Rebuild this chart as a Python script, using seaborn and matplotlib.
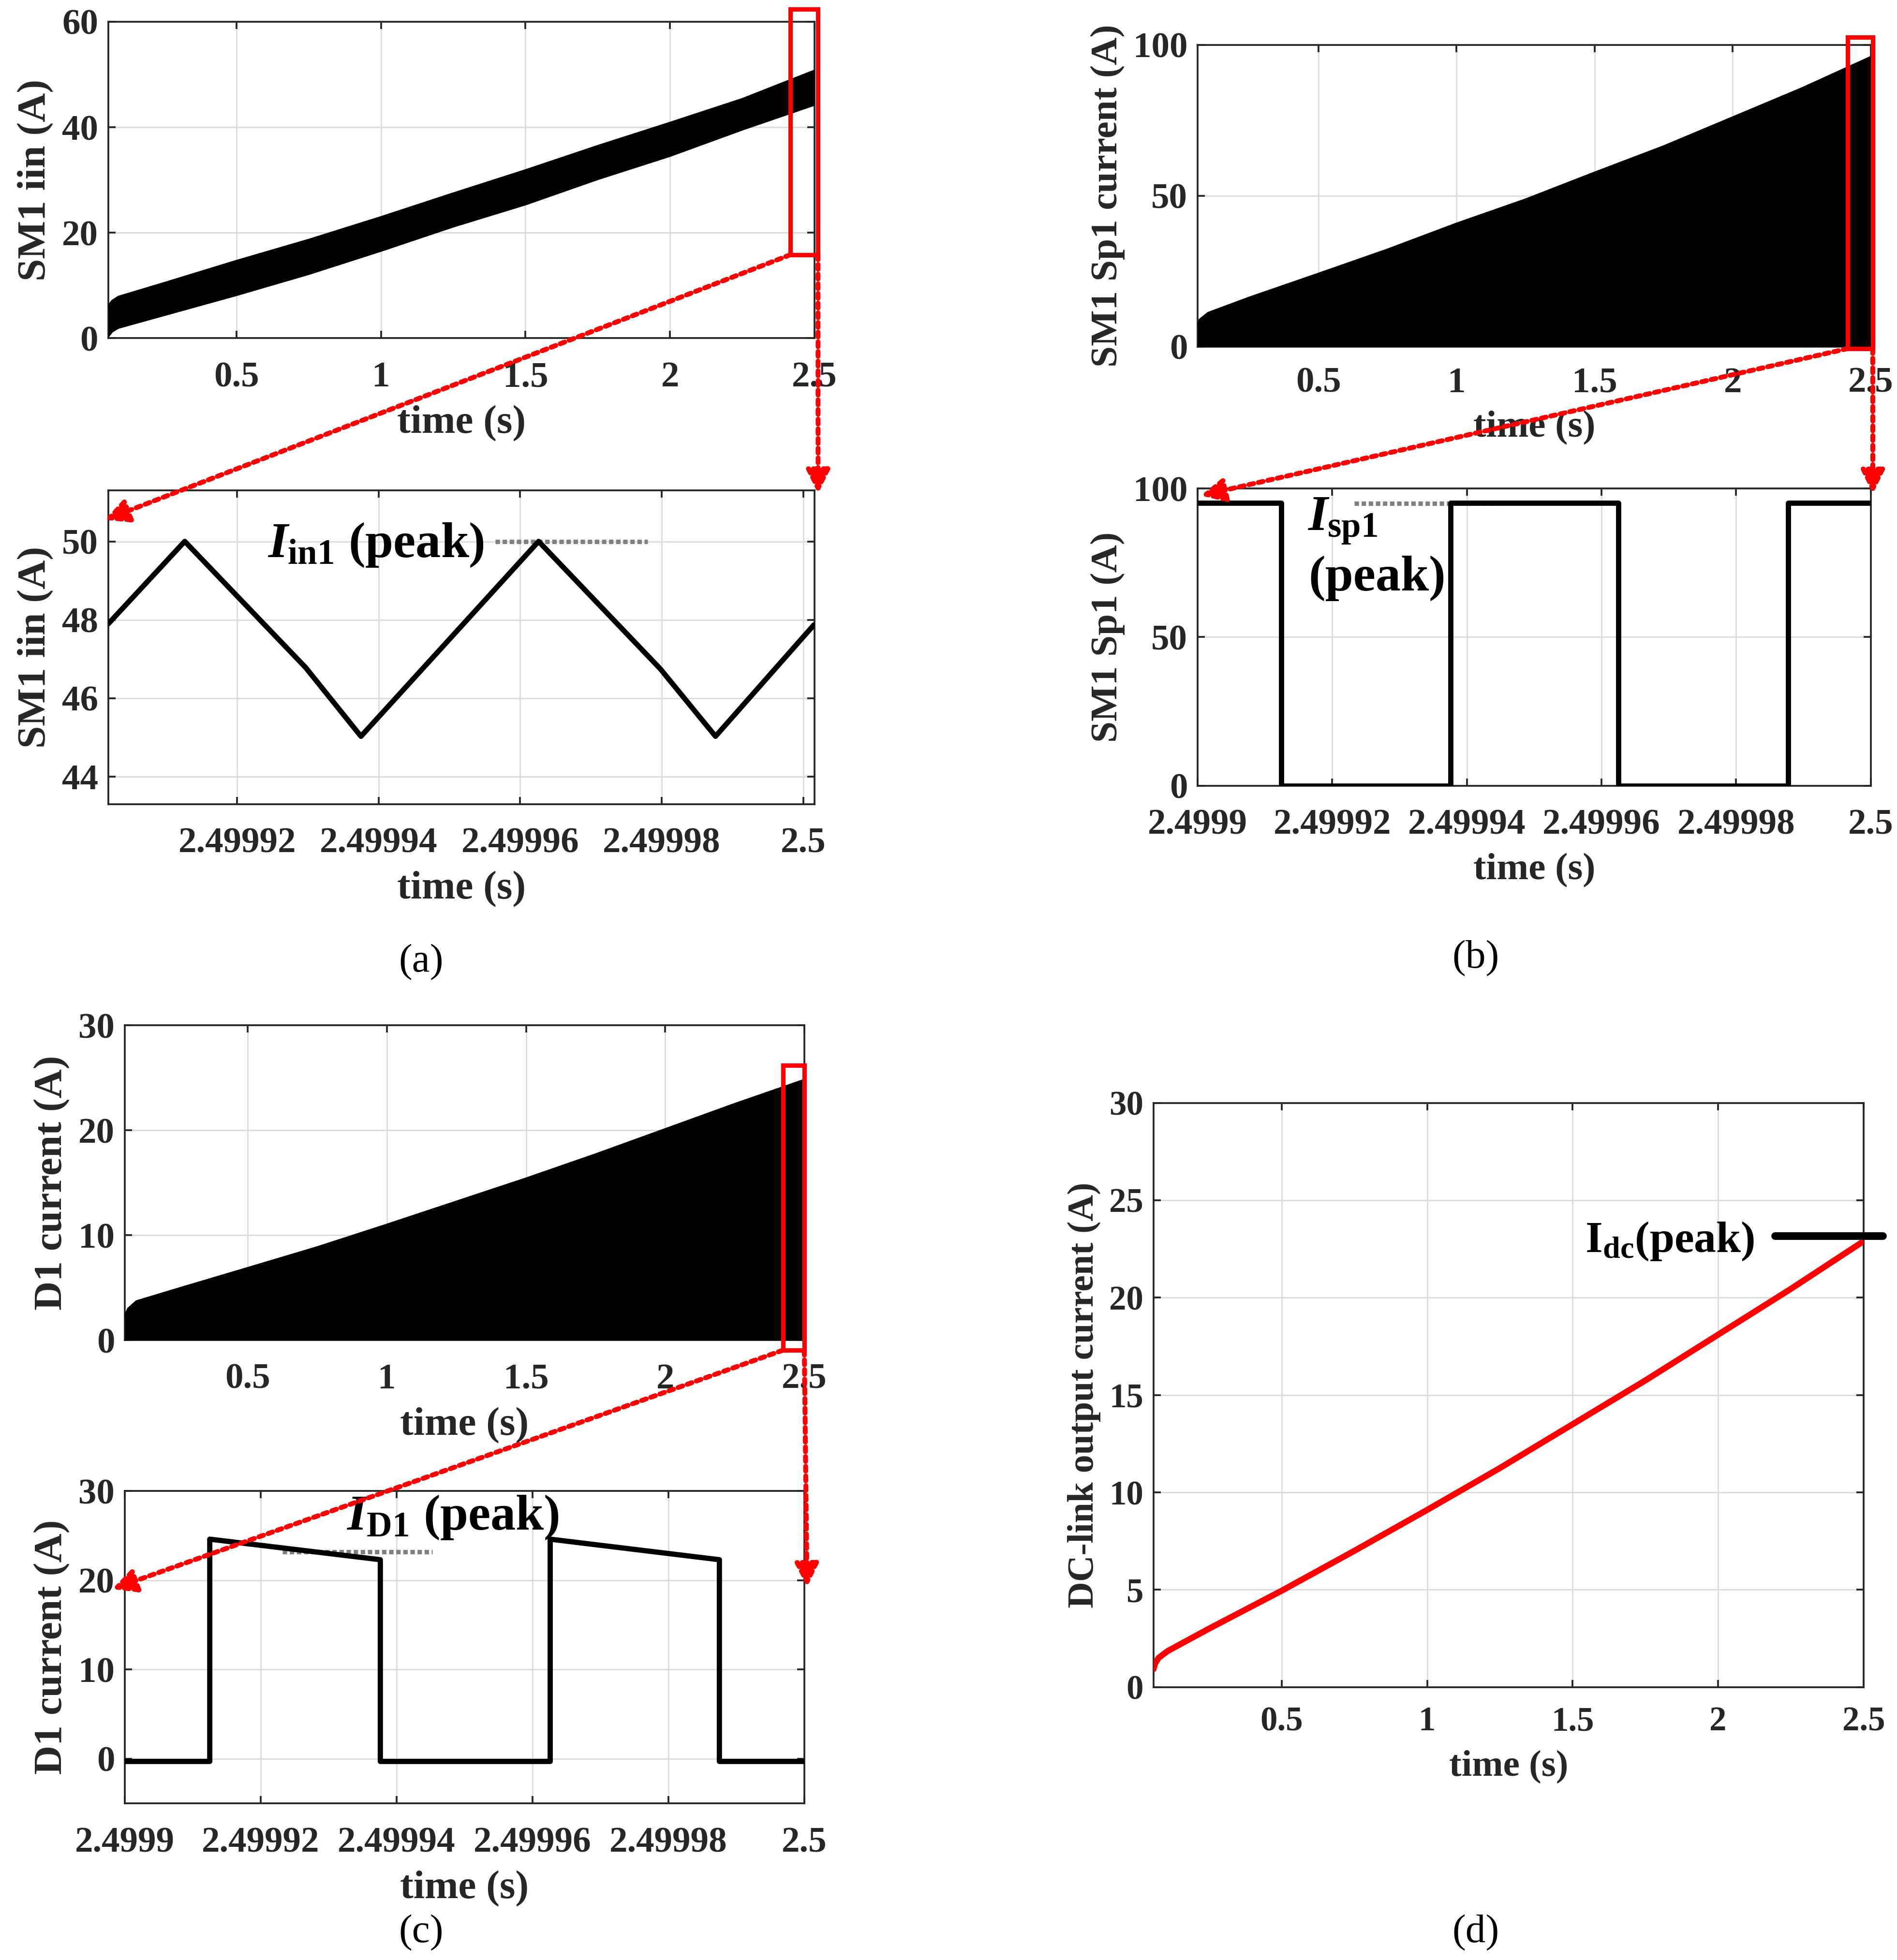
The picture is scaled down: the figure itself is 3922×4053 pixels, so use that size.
import numpy as np
import seaborn as sns
import matplotlib.pyplot as plt
from matplotlib.patches import Rectangle, ConnectionPatch


# (a) SM1 input current, ripple band over the whole run
T_IIN = [0.057, 0.07, 0.092, 0.25, 0.5, 0.75, 1.0, 1.25, 1.5, 1.75, 2.0, 2.25, 2.5]
IIN_UPPER = [6.0, 7.0, 7.8, 10.4, 14.6, 18.6, 22.9, 27.4, 31.8, 36.4, 40.8, 45.3, 50.7]
IIN_LOWER = [0.4, 1.3, 2.0, 4.4, 8.2, 12.2, 16.6, 21.2, 25.4, 30.2, 34.6, 39.6, 44.3]

# (a) zoom on the last switching periods
T_IIN_ZOOM = [2.4999018, 2.4999126, 2.4999297, 2.4999375, 2.4999626, 2.4999798, 2.4999876, 2.5000015]
IIN_ZOOM = [47.9, 50.0, 46.78, 45.03, 50.0, 46.75, 45.03, 47.87]

# (b) SM1 Sp1 switch current, envelope of the pulses
T_SP1 = [0.062, 0.07, 0.1, 0.25, 0.5, 0.75, 1.0, 1.25, 1.5, 1.75, 2.0, 2.25, 2.5]
SP1_UPPER = [7.0, 9.0, 11.2, 16.3, 24.2, 32.2, 40.8, 48.8, 57.7, 66.4, 76.0, 85.6, 96.0]

T_SP1_ZOOM = [2.4999, 2.4999124, 2.4999124, 2.4999376, 2.4999376, 2.4999625, 2.4999625, 2.4999877, 2.4999877, 2.5]
SP1_ZOOM = [95.2, 95.2, 0.0, 0.0, 95.2, 95.2, 0.0, 0.0, 95.2, 95.2]

# (c) D1 diode current, envelope of the pulses
T_D1 = [0.058, 0.07, 0.1, 0.25, 0.5, 0.75, 1.0, 1.25, 1.5, 1.75, 2.0, 2.25, 2.5]
D1_UPPER = [2.3, 3.0, 3.7, 4.9, 6.87, 8.85, 11.0, 13.2, 15.4, 17.7, 20.1, 22.5, 24.8]

T_D1_ZOOM = [2.4999, 2.4999125, 2.4999125, 2.4999376, 2.4999376, 2.4999626, 2.4999626, 2.4999875, 2.4999875, 2.5]
D1_ZOOM = [-0.3, -0.3, 24.6, 22.3, -0.3, -0.3, 24.6, 22.3, -0.3, -0.3]

# (d) DC-link output current
T_DC = [0.06, 0.065, 0.077, 0.108, 0.25, 0.5, 0.75, 1.0, 1.25, 1.5, 1.75, 2.0, 2.25, 2.5]
I_DC = [0.93, 1.2, 1.5, 1.85, 3.0, 4.95, 7.0, 9.1, 11.25, 13.5, 15.75, 18.1, 20.45, 22.9]

COARSE_TICKS = [0.5, 1, 1.5, 2, 2.5]
COARSE_LABELS = ["0.5", "1", "1.5", "2", "2.5"]
FINE_TICKS = [2.4999, 2.49992, 2.49994, 2.49996, 2.49998, 2.5]
FINE_LABELS = ["2.4999", "2.49992", "2.49994", "2.49996", "2.49998", "2.5"]

DARK = "#262626"

sns.set_theme(style="whitegrid")
plt.rcParams.update({
    "font.weight": "bold",
    "axes.labelweight": "bold",
    "mathtext.fontset": "custom",
    "mathtext.rm": "Liberation Serif:bold",
    "mathtext.it": "Liberation Serif:italic:bold",
    "mathtext.bf": "Liberation Serif:bold",
})
plt.rcParams["font.family"] = ["Liberation Serif", "DejaVu Serif"]


# MATLAB-like axes: inward ticks on all sides, thin light grid
def style_axes(ax, xlim, ylim, xticks, xlabels, yticks, ylabel, tick_fs=18, ylabel_fs=20,
               xlabel_fs=20, xpad=11.5, xlabelpad=5.5):
    ax.set_xlim(xlim)
    ax.set_ylim(ylim)
    ax.set_xticks(xticks)
    ax.set_xticklabels(xlabels)
    ax.set_yticks(yticks)
    ax.tick_params(direction="in", bottom=True, left=True, top=True, right=True,
                   length=3.6, width=0.9, color=DARK, labelsize=tick_fs, labelcolor=DARK)
    ax.tick_params(axis="x", pad=xpad)
    ax.tick_params(axis="y", pad=5)
    for sp in ax.spines.values():
        sp.set_color(DARK)
        sp.set_linewidth(0.9)
    ax.grid(True, color="#dcdcdc", lw=0.7)
    ax.set_xlabel("time (s)", fontsize=xlabel_fs, color=DARK, labelpad=xlabelpad)
    ax.set_ylabel(ylabel, fontsize=ylabel_fs, color=DARK, labelpad=4)


def zoom_box(fig, ax_top, ax_bot, x0, x1, y0, y1, tip_left, tip_right):
    ax_top.add_patch(Rectangle((x0, y0), x1 - x0, y1 - y0, fill=False, edgecolor="red",
                               lw=2.2, clip_on=False, zorder=6))
    for src, dst in [((x0, y0), tip_left), ((x1, y0), tip_right)]:
        con = ConnectionPatch(xyA=src, coordsA=ax_top.transData, xyB=dst, coordsB=ax_bot.transAxes,
                              arrowstyle="-|>", color="red", lw=2.4, linestyle=(0, (1, 1)),
                              mutation_scale=24, zorder=10)
        fig.add_artist(con)


fig = plt.figure(figsize=(3922 / 300, 4053 / 300), dpi=300)
fig.patch.set_facecolor("white")

ax_a1 = fig.add_axes([0.0571, 0.8275, 0.3723, 0.1614])
ax_a2 = fig.add_axes([0.0571, 0.5897, 0.3723, 0.1601])
ax_b1 = fig.add_axes([0.6313, 0.8231, 0.3549, 0.1540])
ax_b2 = fig.add_axes([0.6313, 0.5991, 0.3549, 0.1517])
ax_c1 = fig.add_axes([0.0658, 0.3163, 0.3582, 0.1606])
ax_c2 = fig.add_axes([0.0658, 0.0799, 0.3582, 0.1594])
ax_d = fig.add_axes([0.6081, 0.1392, 0.3743, 0.2981])

# (a)
ax_a1.fill_between(T_IIN, IIN_LOWER, IIN_UPPER, color="black", lw=0, zorder=3)
sns.lineplot(x=T_IIN, y=IIN_UPPER, ax=ax_a1, color="black", lw=1.2, estimator=None, sort=False, zorder=3)
sns.lineplot(x=T_IIN, y=IIN_LOWER, ax=ax_a1, color="black", lw=1.2, estimator=None, sort=False, zorder=3)
style_axes(ax_a1, (0.057, 2.5), (0, 60), COARSE_TICKS, COARSE_LABELS, [0, 20, 40, 60], "SM1 iin (A)")

sns.lineplot(x=T_IIN_ZOOM, y=IIN_ZOOM, ax=ax_a2, color="black", lw=2.6, estimator=None, sort=False, zorder=3)
ax_a2.plot([2.4999565, 2.4999780], [50, 50], color="#808080", lw=2.2, linestyle=(0, (1, 0.6)), zorder=2)
ax_a2.text(2.4999243, 49.6, r"$I_{\mathbf{in1}}$ (peak)", fontsize=25, color="black", va="baseline", ha="left")
style_axes(ax_a2, (2.4999018, 2.5000016), (43.3, 51.3), FINE_TICKS[1:], FINE_LABELS[1:],
           [44, 46, 48, 50], "SM1 iin (A)")
zoom_box(fig, ax_a1, ax_a2, 2.416, 2.512, 15.8, 62.35, (-0.005, 0.906), (1.005, 0.99))

# (b)
ax_b1.fill_between(T_SP1, 0, SP1_UPPER, color="black", lw=0, zorder=3)
sns.lineplot(x=T_SP1, y=SP1_UPPER, ax=ax_b1, color="black", lw=1.0, estimator=None, sort=False, zorder=3)
style_axes(ax_b1, (0.062, 2.5), (0, 100), COARSE_TICKS, COARSE_LABELS, [0, 50, 100],
           "SM1 Sp1 current (A)", ylabel_fs=19, xlabel_fs=19, xpad=10)

sns.lineplot(x=T_SP1_ZOOM, y=SP1_ZOOM, ax=ax_b2, color="black", lw=2.6, estimator=None, sort=False, zorder=3)
ax_b2.plot([2.4999233, 2.4999448], [95, 95], color="#808080", lw=2.2, linestyle=(0, (1, 0.6)), zorder=2)
ax_b2.text(2.4999163, 85.7, r"$I_{\mathbf{sp1}}$", fontsize=25, color="black", va="baseline", ha="left")
ax_b2.text(2.4999165, 65.7, "(peak)", fontsize=25, color="black", va="baseline", ha="left")
style_axes(ax_b2, (2.4999, 2.5), (0, 100), FINE_TICKS, FINE_LABELS, [0, 50, 100],
           "SM1 Sp1 (A)", ylabel_fs=19, xlabel_fs=19)
zoom_box(fig, ax_b1, ax_b2, 2.417, 2.507, -0.6, 102.5, (0.005, 0.976), (1.003, 0.982))

# (c)
ax_c1.fill_between(T_D1, 0, D1_UPPER, color="black", lw=0, zorder=3)
sns.lineplot(x=T_D1, y=D1_UPPER, ax=ax_c1, color="black", lw=1.0, estimator=None, sort=False, zorder=3)
style_axes(ax_c1, (0.058, 2.5), (0, 30), COARSE_TICKS, COARSE_LABELS, [0, 10, 20, 30], "D1 current (A)")

sns.lineplot(x=T_D1_ZOOM, y=D1_ZOOM, ax=ax_c2, color="black", lw=2.6, estimator=None, sort=False, zorder=3)
ax_c2.plot([2.4999232, 2.4999453], [23.2, 23.2], color="#808080", lw=2.2, linestyle=(0, (1, 0.6)), zorder=2)
ax_c2.text(2.4999326, 25.67, r"$I_{\mathbf{D1}}$ (peak)", fontsize=25, color="black", va="baseline", ha="left")
style_axes(ax_c2, (2.4999, 2.5), (-5, 30), FINE_TICKS, FINE_LABELS, [0, 10, 20, 30], "D1 current (A)")
zoom_box(fig, ax_c1, ax_c2, 2.423, 2.5, -0.97, 26.2, (-0.0185, 0.686), (1.004, 0.692))

# (d)
sns.lineplot(x=T_DC, y=I_DC, ax=ax_d, color="red", lw=3.0, estimator=None, sort=False, zorder=3)
ax_d.plot([2.196, 2.567], [23.17, 23.17], color="black", lw=3.8, clip_on=False, zorder=4)
ax_d.text(2.124, 22.9, r"$\mathrm{I}_{\mathrm{dc}}$(peak)", fontsize=22, color="black", va="center", ha="right")
style_axes(ax_d, (0.06, 2.5), (0, 30), COARSE_TICKS, COARSE_LABELS, [0, 5, 10, 15, 20, 25, 30],
           "DC-link output current (A)", tick_fs=17, ylabel_fs=18.2, xlabel_fs=18.5, xpad=9.5, xlabelpad=6)

for label, x, y in [("(a)", 0.222, 0.509), ("(b)", 0.778, 0.511), ("(c)", 0.222, 0.014), ("(d)", 0.778, 0.014)]:
    fig.text(x, y, label, fontsize=20, fontweight="normal", color="black", ha="center", va="center")

fig.savefig("out.png", dpi=300)
